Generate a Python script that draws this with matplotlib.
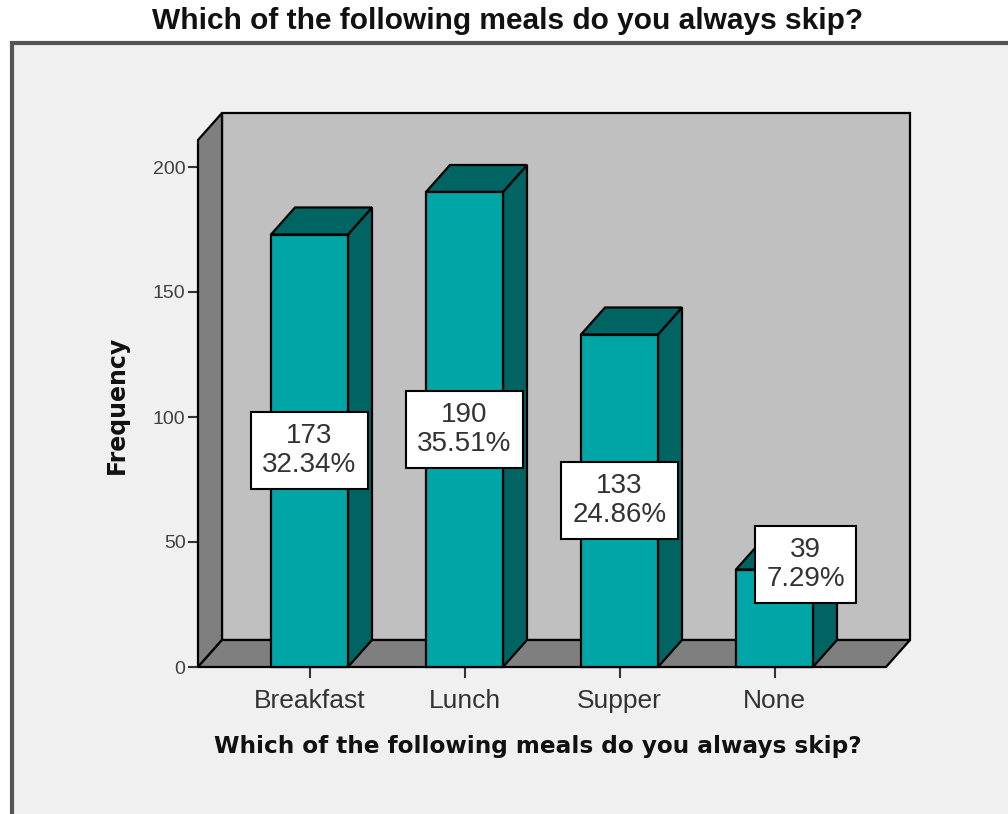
import matplotlib
matplotlib.use("Agg")
import matplotlib.pyplot as plt
from matplotlib.patches import Polygon, Rectangle

# ---- data ----
categories = ["Breakfast", "Lunch", "Supper", "None"]
counts = [173, 190, 133, 39]
percents = ["32.34%", "35.51%", "24.86%", "7.29%"]
yticks = [0, 50, 100, 150, 200]
title = "Which of the following meals do you always skip?"
xlabel = "Which of the following meals do you always skip?"
ylabel = "Frequency"

# ---- style ----
W, H = 1008, 814
fig = plt.figure(figsize=(W / 100, H / 100), dpi=100, facecolor="white")

# outer panel
fig.patches.append(Rectangle((12 / W, -0.01), 1.0, 1 - 43 / H + 0.01, transform=fig.transFigure,
                             facecolor="#f0f0f0", edgecolor="#555555", linewidth=3, zorder=-5))

ax_l, ax_r, ax_b, ax_t = 198, 908, 667, 113
ax = fig.add_axes([ax_l / W, 1 - ax_b / H, (ax_r - ax_l) / W, (ax_b - ax_t) / H])
ax.set_zorder(2)
ax.set_facecolor("none")
for s in ax.spines.values():
    s.set_visible(False)

n = len(categories)
cat_px = 155.0
x0 = -111.5 / cat_px
x1 = (n - 1) + 111.5 / cat_px
dx = 24 / cat_px
ymax = (ax_b - ax_t) / 2.5
dy = 27 / 2.5
ax.set_xlim(x0, x0 + (ax_r - ax_l) / cat_px)
ax.set_ylim(0, ymax)
front_top = ymax - dy

wall = "#c0c0c0"
side = "#7f7f7f"
teal = "#00a6a6"
dark = "#006463"
lw = 1.6

# back wall
ax.add_patch(Polygon([(x0 + dx, dy), (x1 + dx, dy), (x1 + dx, ymax), (x0 + dx, ymax)],
                     closed=True, facecolor=wall, edgecolor="black", lw=lw, clip_on=False, zorder=1))
# left wall
ax.add_patch(Polygon([(x0, 0), (x0 + dx, dy), (x0 + dx, ymax), (x0, front_top)],
                     closed=True, facecolor=side, edgecolor="black", lw=lw, clip_on=False, zorder=2))
# floor
ax.add_patch(Polygon([(x0, 0), (x1, 0), (x1 + dx, dy), (x0 + dx, dy)],
                     closed=True, facecolor=side, edgecolor="black", lw=lw, clip_on=False, zorder=2))

bw = 77 / cat_px
for i, v in enumerate(counts):
    l, r = i - bw / 2, i + bw / 2
    ax.add_patch(Polygon([(r, 0), (r + dx, dy), (r + dx, v + dy), (r, v)], closed=True,
                         facecolor=dark, edgecolor="black", lw=lw, zorder=3, clip_on=False))
    ax.add_patch(Polygon([(l, v), (r, v), (r + dx, v + dy), (l + dx, v + dy)], closed=True,
                         facecolor=dark, edgecolor="black", lw=lw, zorder=3, clip_on=False))
    ax.add_patch(Rectangle((l, 0), bw, v, facecolor=teal, edgecolor="black", lw=lw, zorder=4, clip_on=False))
    if v >= 50:
        lx, ly = i, v / 2
    else:
        lx, ly = i + 0.2, v + 2
    ax.text(lx, ly, f"{v}\n{percents[i]}", ha="center", va="center", fontsize=20,
            family="Liberation Sans", color="#333333", linespacing=1.15, zorder=6,
            bbox=dict(boxstyle="square,pad=0.4", facecolor="white", edgecolor="black", lw=1.5))

ax.set_yticks(yticks)
ax.set_yticklabels([str(t) for t in yticks], fontsize=14, family="Liberation Sans", color="#404040")
ax.set_xticks(range(n))
ax.set_xticklabels(categories, fontsize=19, family="Liberation Sans", color="#333333")
ax.tick_params(axis="y", length=7, width=1.5, color="#333333", pad=2)
ax.tick_params(axis="x", length=8, width=1.5, color="#333333", pad=8)

ax.set_ylabel(ylabel, fontsize=17, fontweight="bold", family="DejaVu Sans", color="#111111")
ax.yaxis.set_label_coords((129 - ax_l) / (ax_r - ax_l), (ax_b - 405) / (ax_b - ax_t))

fig.text(508 / W, 1 - 21 / H, title, ha="center", va="center", fontsize=21.5, fontweight="bold",
         family="Liberation Sans", color="#111111")
fig.text(538 / W, 1 - 747 / H, xlabel, ha="center", va="center", fontsize=16.7, fontweight="bold",
         family="DejaVu Sans", color="#111111")

fig.savefig("out.png", dpi=100, facecolor="white")
